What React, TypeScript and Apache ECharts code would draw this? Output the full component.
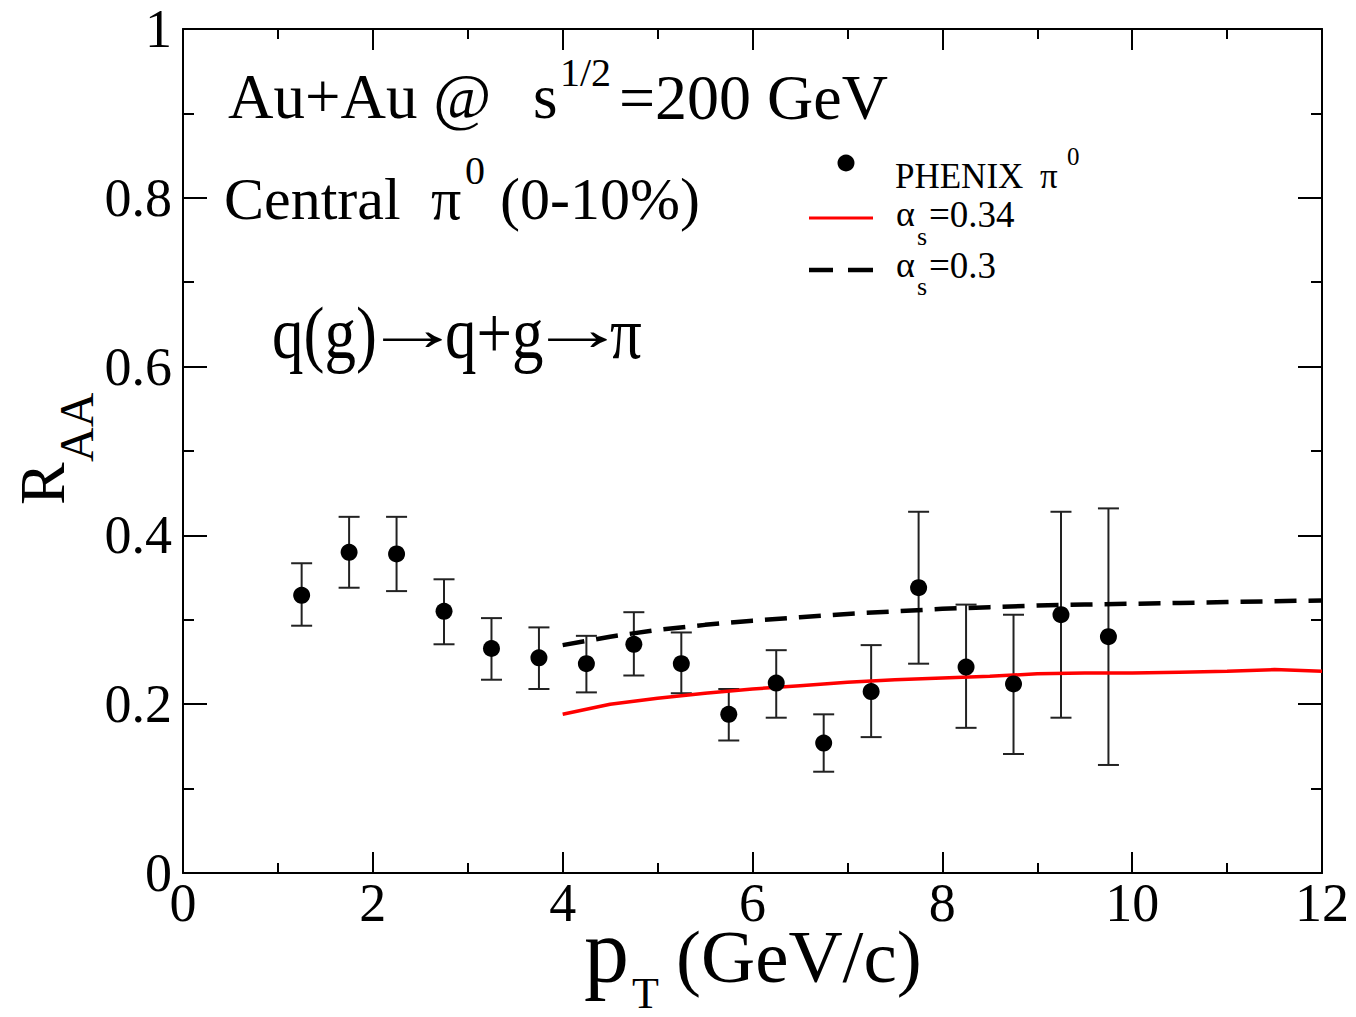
import React, { useEffect, useRef } from "react";
import * as echarts from "echarts";

const pT = [1.25, 1.75, 2.25, 2.75, 3.25, 3.75, 4.25, 4.75, 5.25, 5.75, 6.25, 6.75, 7.25, 7.75, 8.25, 8.75, 9.25, 9.75];
const raa = [0.329, 0.380, 0.378, 0.310, 0.266, 0.255, 0.248, 0.271, 0.248, 0.188, 0.225, 0.154, 0.215, 0.338, 0.244, 0.224, 0.306, 0.280];
const raaHigh = [0.367, 0.422, 0.422, 0.348, 0.302, 0.291, 0.281, 0.309, 0.285, 0.218, 0.264, 0.188, 0.270, 0.428, 0.318, 0.306, 0.428, 0.432];
const raaLow = [0.293, 0.338, 0.334, 0.271, 0.229, 0.218, 0.214, 0.234, 0.213, 0.157, 0.184, 0.120, 0.161, 0.248, 0.172, 0.141, 0.184, 0.128];

const curvePt = [4, 4.5, 5, 5.5, 6, 6.5, 7, 7.5, 8, 8.5, 9, 9.5, 10, 10.5, 11, 11.5, 12];
const alpha034 = [0.188, 0.200, 0.207, 0.213, 0.218, 0.222, 0.226, 0.229, 0.231, 0.233, 0.236, 0.237, 0.237, 0.238, 0.239, 0.241, 0.239];
const alpha030 = [0.270, 0.280, 0.288, 0.294, 0.299, 0.303, 0.307, 0.310, 0.313, 0.315, 0.317, 0.318, 0.319, 0.320, 0.321, 0.322, 0.323];

const xTicks = [0, 2, 4, 6, 8, 10, 12];
const yTicks = ["0", "0.2", "0.4", "0.6", "0.8", "1"];

const FONT = '"Liberation Serif", "Times New Roman", serif';

function txt(text: string, x: number, y: number, size: number, extra: any = {}, styleExtra: any = {}) {
  const align = styleExtra.align || "left";
  return {
    type: "text",
    x,
    y,
    silent: true,
    ...extra,
    style: {
      text,
      font: `${size}px ${FONT}`,
      fill: "#000",
      textAlign: align,
      textVerticalAlign: "middle",
      align,
      verticalAlign: "middle",
      ...styleExtra,
    },
  };
}

export default function App() {
  const ref = useRef<HTMLDivElement>(null);
  useEffect(() => {
    if (!ref.current) return;
    const chart = echarts.init(ref.current, null, { renderer: "svg" });
    const axisCommon = {
      type: "value",
      axisLine: { show: true, onZero: false, lineStyle: { color: "#000", width: 2 } },
      splitLine: { show: false },
      minorSplitLine: { show: false },
    };
    const xBase = {
      ...axisCommon,
      min: 0,
      max: 12,
      interval: 2,
      axisTick: { show: true, inside: true, length: 21, lineStyle: { color: "#000", width: 2 } },
      minorTick: { show: true, splitNumber: 2, length: 10, lineStyle: { color: "#000", width: 2 } },
    };
    const yBase = {
      ...axisCommon,
      min: 0,
      max: 1,
      interval: 0.2,
      axisTick: { show: true, inside: true, length: 24, lineStyle: { color: "#000", width: 2 } },
      minorTick: { show: true, splitNumber: 2, length: 11, lineStyle: { color: "#000", width: 2 } },
    };
    const line3 = { scaleY: 1.18 };
    const lg = { lineHeight: 28 };
    const lgs = { lineHeight: 20 };
    const option: any = {
      animation: false,
      backgroundColor: "#fff",
      grid: { left: 183, top: 29, right: 34, bottom: 144, containLabel: false },
      xAxis: [
        {
          ...xBase,
          position: "bottom",
          axisLabel: {
            show: true,
            fontFamily: FONT,
            fontSize: 54,
            lineHeight: 40,
            color: "#000",
            margin: 10,
            formatter: (v: number) => String(xTicks[Math.round(v / 2)]),
          },
        },
        { ...xBase, position: "top", axisLabel: { show: false } },
      ],
      yAxis: [
        {
          ...yBase,
          position: "left",
          axisLabel: {
            show: true,
            fontFamily: FONT,
            fontSize: 54,
            lineHeight: 44,
            color: "#000",
            margin: 11,
            formatter: (v: number) => yTicks[Math.round(v / 0.2)],
          },
        },
        { ...yBase, position: "right", axisLabel: { show: false } },
      ],
      series: [
        {
          type: "custom",
          xAxisIndex: 0,
          yAxisIndex: 0,
          z: 2,
          data: pT.map((x, i) => [x, raaLow[i], raaHigh[i]]),
          renderItem: (params: any, api: any) => {
            const x = api.value(0);
            const lo = api.coord([x, api.value(1)]);
            const hi = api.coord([x, api.value(2)]);
            const cap = 10.5;
            const st = { stroke: "#222", lineWidth: 2 };
            return {
              type: "group",
              children: [
                { type: "line", shape: { x1: lo[0], y1: lo[1], x2: hi[0], y2: hi[1] }, style: st },
                { type: "line", shape: { x1: lo[0] - cap, y1: lo[1], x2: lo[0] + cap, y2: lo[1] }, style: st },
                { type: "line", shape: { x1: hi[0] - cap, y1: hi[1], x2: hi[0] + cap, y2: hi[1] }, style: st },
              ],
            };
          },
        },
        {
          type: "line",
          name: "alpha034",
          z: 3,
          showSymbol: false,
          symbol: "none",
          data: curvePt.map((x, i) => [x, alpha034[i]]),
          lineStyle: { color: "#ff0000", width: 3.5 },
        },
        {
          type: "line",
          name: "alpha030",
          z: 3,
          showSymbol: false,
          symbol: "none",
          data: curvePt.map((x, i) => [x, alpha030[i]]),
          lineStyle: { color: "#000", width: 4.5, type: [22, 12] },
        },
        {
          type: "scatter",
          name: "PHENIX",
          z: 4,
          symbol: "circle",
          symbolSize: 17,
          itemStyle: { color: "#000", opacity: 1 },
          data: pT.map((x, i) => [x, raa[i]]),
        },
      ],
      graphic: [
        // annotations
        txt("Au+Au @", 228, 97, 63),
        txt("s", 533, 97, 63),
        txt("1/2", 560, 72, 40, {}, { lineHeight: 34 }),
        txt("=200 GeV", 619, 97, 64),
        txt("Central", 224, 199, 60),
        txt("π", 431, 199, 60),
        txt("0", 465, 170, 40, {}, { lineHeight: 34 }),
        txt("(0-10%)", 500, 199, 60),
        txt("q(g)", 272, 333, 63, line3),
        txt("→", 412, 329, 62, { scaleX: 1.6 }, { align: "center" }),
        txt("q+g", 445, 333, 63, line3),
        txt("→", 577, 329, 62, { scaleX: 1.6 }, { align: "center" }),
        txt("π", 610, 333, 63, line3),
        // legend
        { type: "circle", shape: { cx: 846, cy: 163, r: 8.5 }, style: { fill: "#000" }, silent: true },
        txt("PHENIX", 895, 176, 35, {}, lg),
        txt("π", 1040, 176, 35, {}, lg),
        txt("0", 1067, 156, 25, {}, lgs),
        { type: "line", shape: { x1: 809, y1: 218, x2: 873, y2: 218 }, style: { stroke: "#ff0000", lineWidth: 3 }, silent: true },
        txt("α", 896, 214, 36, {}, lg),
        txt("s", 917, 236, 26, {}, lgs),
        txt("=0.34", 929, 214, 37, {}, lg),
        { type: "line", shape: { x1: 809, y1: 270, x2: 833, y2: 270 }, style: { stroke: "#000", lineWidth: 4.5 }, silent: true },
        { type: "line", shape: { x1: 848, y1: 270, x2: 873, y2: 270 }, style: { stroke: "#000", lineWidth: 4.5 }, silent: true },
        txt("α", 896, 265, 36, {}, lg),
        txt("s", 917, 286, 26, {}, lgs),
        txt("=0.3", 929, 265, 37, {}, lg),
        // axis titles
        txt("p", 584, 951, 90, {}, { lineHeight: 50 }),
        txt("T", 632, 993, 44, {}, { lineHeight: 30 }),
        txt("(GeV/c)", 676, 956, 75, {}, { lineHeight: 40 }),
        txt("R", 42, 505, 64, { rotation: Math.PI / 2 }),
        txt("AA", 76, 462, 48, { rotation: Math.PI / 2 }),
      ],
    };
    chart.setOption(option);
    return () => chart.dispose();
  }, []);
  return (
    <div
      ref={ref}
      style={{ position: "fixed", left: 0, top: 0, width: 1356, height: 1017, background: "#fff" }}
    />
  );
}
